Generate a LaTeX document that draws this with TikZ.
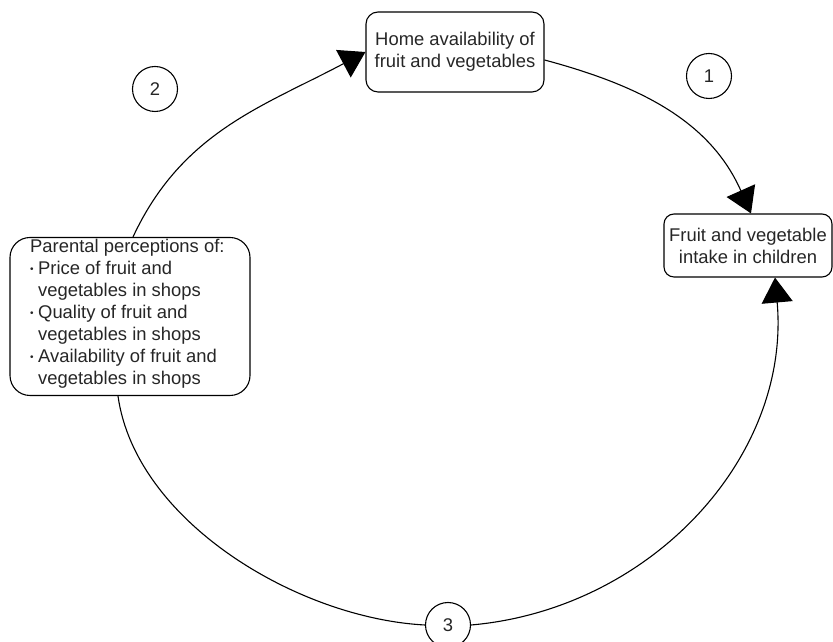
\documentclass[tikz,border=0pt]{standalone}
\usepackage{fontspec}
\setmainfont{Liberation Sans}
\usetikzlibrary{arrows.meta}
\newcommand{\bul}{\makebox[8pt][l]{\fontsize{10}{22}\selectfont\raisebox{2.5pt}{•}}}
\newcommand{\ind}{\hspace*{8pt}}
\begin{document}
\begin{tikzpicture}[x=1pt,y=1pt,
  every node/.style={font=\fontsize{18.4}{22}\selectfont, text=black!85},
  boxnode/.style={draw, line width=1.1pt, align=center, inner sep=0pt},
  numcirc/.style={draw, circle, line width=1.1pt, minimum size=45pt, inner sep=0pt, fill=white},
  conn/.style={line width=1.1pt},
  bigtip/.style={-{Triangle[length=25pt,width=31pt]}}
]
\useasboundingbox (0,0) rectangle (833,642);
\node[boxnode, rounded corners=12pt, minimum width=178pt, minimum height=80pt] (home) at (455,590) {Home availability of\\fruit and vegetables};
\node[boxnode, rounded corners=10pt, minimum width=168pt, minimum height=63pt] (intake) at (748,396.5) {Fruit and vegetable\\intake in children};
\node[boxnode, rounded corners=20pt, minimum width=240pt, minimum height=158pt] (parental) at (130,325.5) {};
\node[anchor=west, align=left, inner sep=0pt] (ptxt) at (30,328) {Parental perceptions of:\\
\bul Price of fruit and\\
\ind vegetables in shops\\
\bul Quality of fruit and\\
\ind vegetables in shops\\
\bul Availability of fruit and\\
\ind vegetables in shops};
\node[numcirc] (c1) at (709,566) {1};
\node[numcirc] (c2) at (155,553) {2};
\node[numcirc] (c3) at (448,17) {3};
\draw[conn, bigtip] ([yshift=-8pt]home.east) to[out=-15, in=114] ([xshift=3pt]intake.north);
\draw[conn, bigtip] ([xshift=3pt]parental.north) to[out=65, in=208] (home.west);
\draw[conn] ([xshift=-12pt]parental.south) to[out=-82, in=177, looseness=0.85] (c3.west);
\draw[conn, bigtip] (c3.east) to[out=5, in=-85] ([xshift=27pt]intake.south);
\end{tikzpicture}
\end{document}
